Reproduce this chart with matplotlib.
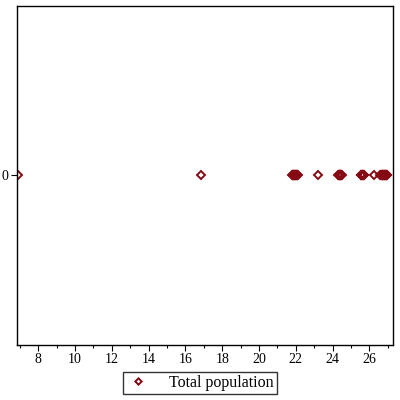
import numpy as np
import matplotlib
matplotlib.use("Agg")
import matplotlib.pyplot as plt
from matplotlib.ticker import MultipleLocator

# values (all plotted at y = 0)
population = [6.9, 16.85,
              21.8, 21.82, 21.84, 21.86, 21.88, 21.9, 21.92, 21.94, 21.96,
              21.98, 22.0, 22.02, 22.04, 22.06, 22.08, 22.1,
              23.2,
              24.3, 24.32, 24.34, 24.36, 24.38, 24.4, 24.42, 24.44, 24.46,
              24.48, 24.5,
              25.53, 25.56, 25.58, 25.6, 25.62, 25.64, 25.66, 25.68, 25.7,
              26.25,
              26.6, 26.63, 26.66, 26.68, 26.7, 26.72, 26.74, 26.76, 26.78,
              26.8, 26.82, 26.84, 26.86, 26.88, 26.9, 26.92, 26.95, 26.98]
x_ticks = [8, 10, 12, 14, 16, 18, 20, 22, 24, 26]
series_label = "Total population"

plt.rcParams['font.family'] = ['Liberation Serif', 'DejaVu Serif']

fig = plt.figure(figsize=(4, 4), dpi=100)
ax = fig.add_axes([0.0425, 0.1375, 0.94, 0.8475])

# hollow markers with no face so overlapping points build up solid
ax.plot(population, np.zeros(len(population)), linestyle='none',
        marker='D', markersize=3.6, markerfacecolor='none',
        markeredgecolor='#850a14', markeredgewidth=1.4, label=series_label)

ax.set_xlim(6.85, 27.28)
ax.set_ylim(-1, 1)
ax.set_xticks(x_ticks)
ax.xaxis.set_minor_locator(MultipleLocator(1))
ax.set_yticks([0])
ax.tick_params(axis='both', which='major', direction='out', length=4,
               width=0.8, labelsize=10, pad=2)
ax.tick_params(axis='x', which='minor', direction='out', length=2, width=0.8)
for s in ax.spines.values():
    s.set_linewidth(1.0)

leg = fig.legend(loc='lower center', bbox_to_anchor=(0.5, 0.015), frameon=True,
                 fancybox=False, edgecolor='black', fontsize=11.5,
                 handletextpad=1.2, borderpad=0.2, borderaxespad=0,
                 handlelength=1.5, markerscale=0.9)
leg.get_frame().set_linewidth(1.0)

fig.savefig("out.png", dpi=100)
